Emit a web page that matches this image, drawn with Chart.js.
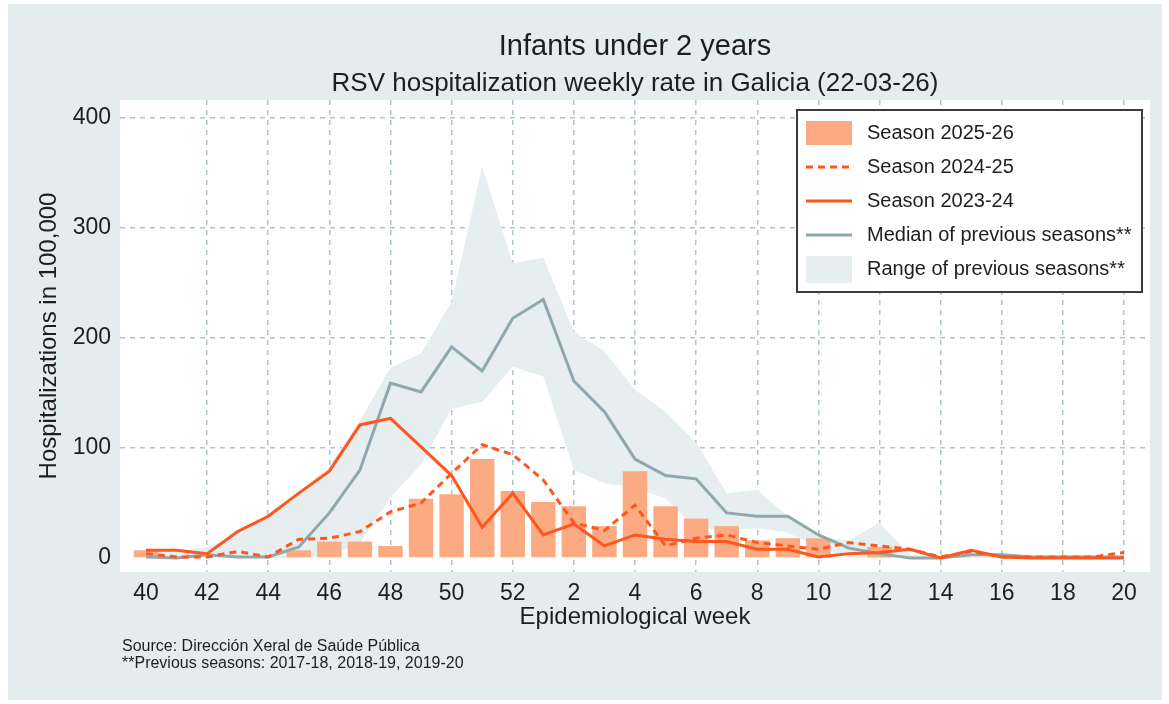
<!DOCTYPE html>
<html>
<head>
<meta charset="utf-8">
<script src="https://cdn.jsdelivr.net/npm/chart.js@4.4.1/dist/chart.umd.min.js"></script>
<style>
html,body{margin:0;padding:0;background:#ffffff;overflow:hidden}
canvas{display:block}
</style>
</head>
<body>
<canvas id="c" width="1169" height="704"></canvas>
<script>
// ---- Data ----
const weeks = [40,41,42,43,44,45,46,47,48,49,50,51,52,1,2,3,4,5,6,7,8,9,10,11,12,13,14,15,16,17,18,19,20];
const season2526 = [7,0,0,0,0,7,15,15,11,54,58,90,61,51,47,29,79,47,36,29,16,18,18,0,10];
const season2425 = [4,1,1,6,1,17,18,24,42,50,77,103,94,71,32,25,48,11,18,21,14,11,8,14,11,8,1,6,1,1,1,1,5];
const season2324 = [7,7,4,24,38,59,79,121,127,101,75,28,59,21,31,11,21,17,15,15,8,8,1,4,5,8,0,7,1,0,0,0,0];
const medianPrev = [1,0,3,1,1,10,41,80,159,151,192,170,218,235,161,133,90,75,72,41,38,38,21,9,4,0,0,3,3,1,1,1,1];
const rangeHigh = [5,5,10,20,39,60,83,125,173,186,233,356,268,273,206,188,153,133,105,59,62,38,19,16,32,3,1,3,3,2,2,2,2];
const rangeLow  = [0,0,0,0,0,0,2,14,55,85,136,142,174,165,80,68,64,54,27,25,27,23,10,0,0,0,0,0,0,0,0,0,0];
const yTicks = [0,100,200,300,400];

const titleText = "Infants under 2 years";
const subtitleText = "RSV hospitalization weekly rate in Galicia (22-03-26)";
const yTitle = "Hospitalizations in 100,000";
const xTitle = "Epidemiological week";
const footLines = ["Source: Dirección Xeral de Saúde Pública", "**Previous seasons: 2017-18, 2018-19, 2019-20"];
const legendLabels = ["Season 2025-26","Season 2024-25","Season 2023-24","Median of previous seasons**","Range of previous seasons**"];

// ---- Styles ----
const C_BAR = 'rgb(252,170,130)';
const C_RED = 'rgb(255,86,30)';
const C_MED = 'rgb(142,168,174)';
const C_BAND = 'rgb(230,238,240)';
const C_GRID = 'rgb(176,196,201)';
const C_BG = 'rgb(228,236,238)';
const C_TXT = '#1e1e1e';
const FONT = '"Liberation Sans", Arial, sans-serif';

const toXY = arr => arr.map((v,i)=>({x:i,y:v}));

const decor = {
  id:'decor',
  beforeDraw(chart){
    const {ctx, chartArea:a} = chart;
    ctx.save();
    ctx.fillStyle = '#ffffff';
    ctx.fillRect(0,0,chart.width,chart.height);
    ctx.fillStyle = C_BG;
    ctx.fillRect(8,4,1154,696);
    ctx.fillStyle = '#ffffff';
    ctx.fillRect(a.left,a.top,a.right-a.left,a.bottom-a.top);
    ctx.restore();
  },
  afterDraw(chart){
    const {ctx, chartArea:a} = chart;
    const cx = (a.left+a.right)/2;
    ctx.save();
    ctx.fillStyle = C_TXT;
    ctx.textAlign = 'center';
    ctx.textBaseline = 'middle';
    ctx.font = '29px ' + FONT;
    ctx.fillText(titleText, cx, 47);
    ctx.font = '26px ' + FONT;
    ctx.fillText(subtitleText, cx, 84);
    // footnotes
    ctx.textAlign = 'left';
    ctx.font = '16px ' + FONT;
    ctx.fillText(footLines[0], 122, 647);
    ctx.fillText(footLines[1], 122, 664);
    // legend
    const lx = 797, ly = 110, lw = 345, lh = 182;
    ctx.fillStyle = '#ffffff';
    ctx.fillRect(lx,ly,lw,lh);
    ctx.strokeStyle = '#3c3c3c';
    ctx.lineWidth = 2;
    ctx.strokeRect(lx,ly,lw,lh);
    const rows = [133,167,201,235,269];
    const sx0 = 806, sx1 = 852;
    ctx.fillStyle = C_BAR;
    ctx.fillRect(sx0, rows[0]-12, sx1-sx0, 24);
    ctx.strokeStyle = C_RED; ctx.lineWidth = 3; ctx.setLineDash([7,5]);
    ctx.beginPath(); ctx.moveTo(sx0,rows[1]); ctx.lineTo(sx1,rows[1]); ctx.stroke();
    ctx.setLineDash([]);
    ctx.beginPath(); ctx.moveTo(sx0,rows[2]); ctx.lineTo(sx1,rows[2]); ctx.stroke();
    ctx.strokeStyle = C_MED;
    ctx.beginPath(); ctx.moveTo(sx0,rows[3]); ctx.lineTo(sx1,rows[3]); ctx.stroke();
    ctx.fillStyle = C_BAND;
    ctx.fillRect(sx0, rows[4]-13, sx1-sx0, 27);
    ctx.fillStyle = C_TXT;
    ctx.font = '20px ' + FONT;
    ctx.textAlign = 'left';
    legendLabels.forEach((t,i)=>ctx.fillText(t, 867, rows[i]));
    ctx.restore();
  }
};

new Chart(document.getElementById('c'), {
  type:'bar',
  data:{
    datasets:[
      {type:'line', label:legendLabels[2], data:toXY(season2324), borderColor:C_RED, borderWidth:3, pointRadius:0, tension:0, fill:false, order:0},
      {type:'line', label:legendLabels[1], data:toXY(season2425), borderColor:C_RED, borderWidth:3, borderDash:[7,5], pointRadius:0, tension:0, fill:false, order:1},
      {type:'line', label:legendLabels[3], data:toXY(medianPrev), borderColor:C_MED, borderWidth:3, pointRadius:0, tension:0, fill:false, order:2},
      {type:'bar', label:legendLabels[0], data:toXY(season2526), backgroundColor:C_BAR, borderWidth:0, barPercentage:0.8, categoryPercentage:1, order:3},
      {type:'line', label:'rangeLow', data:toXY(rangeLow), borderColor:'rgba(0,0,0,0)', borderWidth:0, pointRadius:0, tension:0, fill:false, order:5},
      {type:'line', label:legendLabels[4], data:toXY(rangeHigh), borderColor:'rgba(0,0,0,0)', borderWidth:0, pointRadius:0, tension:0, backgroundColor:C_BAND, fill:'-1', order:4}
    ]
  },
  options:{
    responsive:false,
    animation:false,
    devicePixelRatio:1,
    layout:{padding:{left:30, right:19, top:100, bottom:72}},
    plugins:{legend:{display:false}, title:{display:false}, tooltip:{enabled:false}},
    scales:{
      x:{
        type:'linear', min:-0.85, max:32.85, offset:false,
        afterFit(s){ s.height = 60; },
        border:{display:false, dash:[5,5]},
        grid:{offset:false, drawTicks:false, color:ctx=> (ctx.tick && ctx.tick.value===0) ? 'rgba(0,0,0,0)' : C_GRID, lineWidth:1.5},
        ticks:{stepSize:2, includeBounds:false, autoSkip:false, maxRotation:0, padding:8, color:C_TXT, font:{family:FONT, size:23},
               callback:v=>weeks[v]},
        title:{display:true, text:xTitle, color:C_TXT, font:{family:FONT, size:24}, padding:{top:0,bottom:0}}
      },
      y:{
        min:-12.7, max:416.4,
        afterFit(s){ s.width = 90; },
        border:{display:false, dash:[5,5]},
        grid:{drawTicks:false, color:ctx=> (ctx.tick && ctx.tick.value===0) ? 'rgba(0,0,0,0)' : C_GRID, lineWidth:1.5},
        afterBuildTicks(s){ s.ticks = yTicks.map(v=>({value:v})); },
        ticks:{padding:9, color:C_TXT, font:{family:FONT, size:23}},
        title:{display:true, text:yTitle, color:C_TXT, font:{family:FONT, size:24}, padding:{top:5,bottom:0}}
      }
    }
  },
  plugins:[decor]
});
</script>
</body>
</html>
